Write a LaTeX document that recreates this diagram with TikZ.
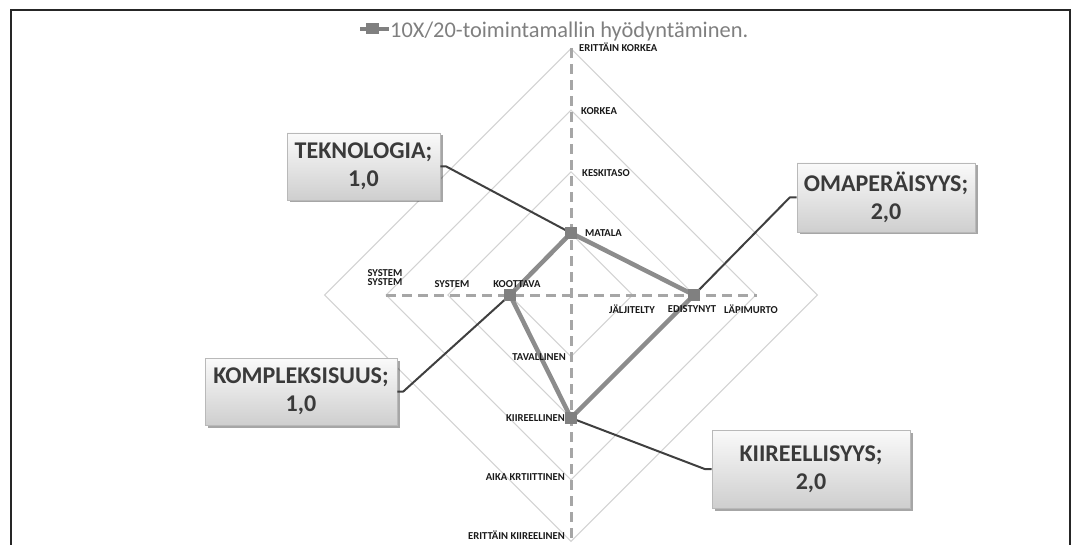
\documentclass[tikz,border=0pt]{standalone}
\usepackage{fontspec}
\setmainfont{Carlito}
\usetikzlibrary{shadows,calc}

\definecolor{gridgray}{HTML}{D2D2D2}
\definecolor{axisgray}{HTML}{A6A6A6}
\definecolor{seriesgray}{HTML}{8C8C8C}
\definecolor{markergray}{HTML}{808080}
\definecolor{calloutink}{HTML}{3A3A3A}
\definecolor{leaderink}{HTML}{3F3F3F}
\definecolor{titleink}{HTML}{7F7F7F}

\begin{document}
\begin{tikzpicture}[x=1pt,y=-1pt,
  gridline/.style={draw=gridgray, line width=1pt},
  axisline/.style={draw=axisgray, line width=3pt, dash pattern=on 10pt off 6pt},
  series/.style={draw=seriesgray, line width=4.5pt, line join=round},
  datamark/.style={rectangle, draw=none, fill=markergray, minimum width=12pt, minimum height=12pt, inner sep=0pt},
  ticklabel/.style={font=\bfseries\fontsize{10.6}{11.5}\selectfont, text=black!90, inner sep=0pt, align=center},
  callout/.style={rectangle, draw=gray!55, line width=0.6pt, top color=gray!4, bottom color=gray!38,
    drop shadow={shadow xshift=2.5pt, shadow yshift=-2.5pt, opacity=0.35, fill=black},
    align=center, font=\bfseries\fontsize{24}{28}\selectfont, text=calloutink, inner sep=0pt},
  leader/.style={draw=leaderink, line width=2pt, line join=round},
  frame/.style={draw=black!85, line width=2.8pt}
]
\useasboundingbox (0,0) rectangle (1073,545);

% outer frame (open at the bottom)
\coordinate (fa) at (11,560);
\coordinate (fb) at (11,10);
\coordinate (fc) at (1070,10);
\coordinate (fd) at (1070,560);
\draw[frame] (fa) -- (fb) -- (fc) -- (fd);

% radar centre
\coordinate (O) at (571,295);

% concentric diamond grid
\foreach \r in {61.6,123.2,184.8,246.4}{
  \draw[gridline] ($(O)+(0,-\r)$) -- ($(O)+(\r,0)$) -- ($(O)+(0,\r)$) -- ($(O)+(-\r,0)$) -- cycle;
}

% dashed axes
\coordinate (axT) at (571,48);
\coordinate (axB) at (571,541);
\coordinate (axL) at (386,295);
\coordinate (axR) at (757,295);
\draw[axisline] (axT) -- (axB);
\draw[axisline] (axL) -- (axR);

% data points
\node[datamark] (pT) at (571,233) {};
\node[datamark] (pR) at (694,295) {};
\node[datamark] (pB) at (571,418) {};
\node[datamark] (pL) at (510,295) {};

% series polygon
\draw[series] (pT.center) -- (pR.center) -- (pB.center) -- (pL.center) -- cycle;

% callouts
\node[callout, minimum width=153pt, minimum height=67pt] (tek) at (363.5,166.5) {TEKNOLOGIA;\\1,0};
\node[callout, minimum width=178pt, minimum height=69pt] (oma) at (886,197.5) {OMAPERÄISYYS;\\2,0};
\node[callout, minimum width=192pt, minimum height=67pt] (kom) at (301,391.5) {KOMPLEKSISUUS;\\1,0};
\node[callout, minimum width=198pt, minimum height=78pt] (kii) at (811,469) {KIIREELLISYYS;\\2,0};

% leader lines
\draw[leader] (tek.east) -- +(6,0) -- (pT.center);
\draw[leader] (oma.west) -- +(-7,0) -- (pR.center);
\draw[leader] (kom.east) -- +(6,0) -- (pL.center);
\draw[leader] (kii.west) -- +(-7,0) -- (pB.center);

% markers on top
\node[datamark] at (pT) {};
\node[datamark] at (pR) {};
\node[datamark] at (pB) {};
\node[datamark] at (pL) {};

% axis labels: vertical axis, upper half
\node[ticklabel, anchor=west] (lEK) at (579,47) {ERITTÄIN KORKEA};
\node[ticklabel, anchor=west] (lKO) at (581,111) {KORKEA};
\node[ticklabel, anchor=west] (lKE) at (582,173) {KESKITASO};
\node[ticklabel, anchor=west] (lMA) at (585,233) {MATALA};
% vertical axis, lower half
\node[ticklabel, anchor=east] (lTA) at (566,357) {TAVALLINEN};
\node[ticklabel, anchor=east] (lKI) at (565,418) {KIIREELLINEN};
\node[ticklabel, anchor=east] (lAK) at (565,477) {AIKA KRTIITTINEN};
\node[ticklabel, anchor=east] (lEKI) at (565,535) {ERITTÄIN KIIREELINEN};
% horizontal axis, left
\node[ticklabel] (lSS) at (385,277.5) {SYSTEM\\[-2pt]SYSTEM};
\node[ticklabel] (lSY) at (452,284) {SYSTEM};
\node[ticklabel] (lKT) at (517,284) {KOOTTAVA};
% horizontal axis, right
\node[ticklabel] (lJA) at (632,309) {JÄLJITELTY};
\node[ticklabel] (lED) at (692,309) {EDISTYNYT};
\node[ticklabel] (lLA) at (751,309) {LÄPIMURTO};

% legend
\coordinate (legA) at (360,29);
\coordinate (legB) at (389,29);
\draw[draw=markergray, line width=4pt] (legA) -- (legB);
\node[datamark, minimum width=13pt, minimum height=11pt] (legM) at (372,29) {};
\node[anchor=base west, inner sep=0pt, text=titleink, font=\fontsize{22.4}{26}\selectfont] (title) at (390,38) {10X/20-toimintamallin hyödyntäminen.};
\end{tikzpicture}
\end{document}
